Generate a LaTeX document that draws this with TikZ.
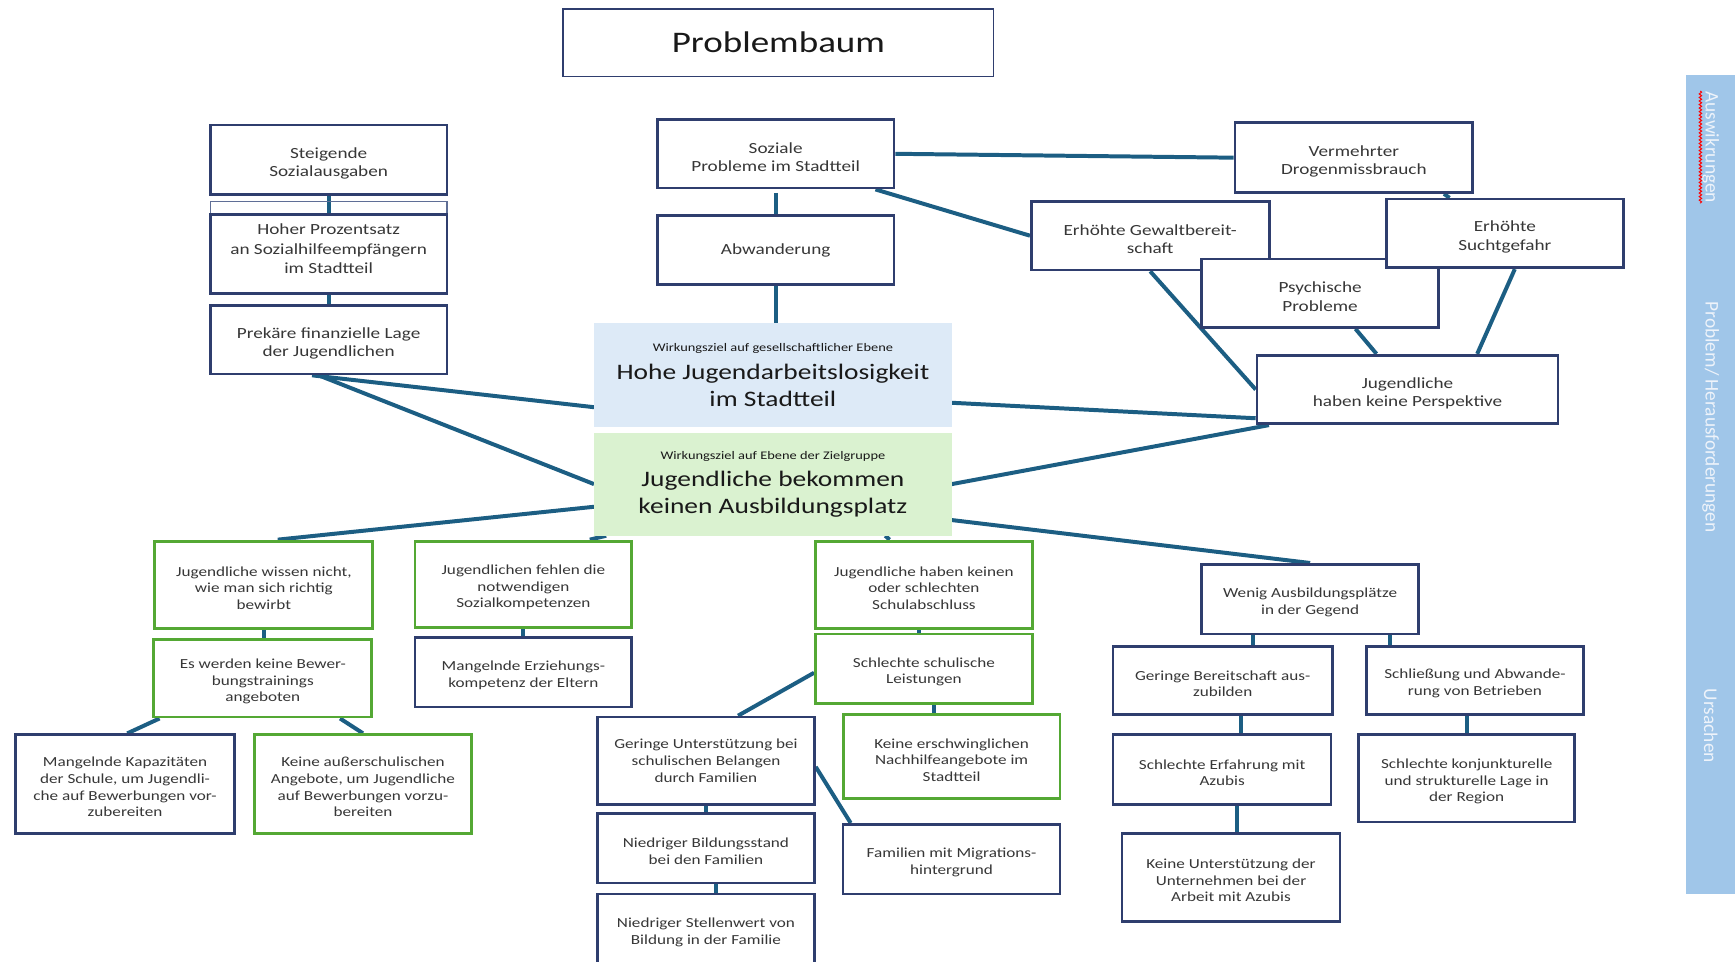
\documentclass[tikz,border=0pt]{standalone}
\usepackage{fontspec}
\setmainfont{Carlito}[FakeStretch=1.24]
\newfontfamily\sidefont{Carlito}
\usetikzlibrary{calc,backgrounds,decorations.pathmorphing}
\definecolor{navy}{RGB}{47,62,110}
\definecolor{grn}{RGB}{84,168,52}
\definecolor{conn}{RGB}{28,94,131}
\definecolor{bluefill}{RGB}{221,234,247}
\definecolor{greenfill}{RGB}{218,242,208}
\definecolor{sidebar}{RGB}{160,198,233}
\definecolor{sidetext}{RGB}{238,243,250}
\definecolor{thinline}{RGB}{95,110,150}
\definecolor{boxtext}{RGB}{55,55,55}
\newcommand\tpad{\rule{0pt}{1.15em}}
\begin{document}
\begin{tikzpicture}[x=1pt,y=-1pt,
  base/.style={rectangle, inner sep=0pt, align=center, fill=white, text=boxtext},
  upbox/.style={base, draw=navy, line width=2.4pt, font=\fontsize{14}{16.5}\selectfont},
  lowbox/.style={base, draw=navy, line width=2.4pt, font=\fontsize{12.5}{15}\selectfont},
  lowgreen/.style={lowbox, draw=grn, line width=2.6pt},
  goalbox/.style={base, draw=none, text=black!90, font=\fontsize{20}{24.5}\selectfont},
  sidelabel/.style={rotate=-90, text=sidetext, font=\sidefont\fontsize{17.5}{20}\selectfont, inner sep=0pt},
  conline/.style={draw=conn, line width=3.6pt},
  sz/.style 2 args={minimum width=#1pt, minimum height=#2pt},
]
\useasboundingbox (0,0) rectangle (1568,869);
\clip (0,0) rectangle (1568,869);

% title
\node[base, draw=navy, line width=1.3pt, sz={389}{61}, text=black!90, font=\fontsize{27}{32}\selectfont] (title) at (703.5,38.5) {Problembaum};

% sidebar
\node[fill=sidebar, inner sep=0pt, sz={44}{740}] (side) at (1546,438) {};
\node[sidelabel] (s1) at (1546,133) {Auswikrungen};
\draw[red, line width=0.9pt, decorate, decoration={snake, segment length=3.2pt, amplitude=1.1pt}] ($(s1.south west)+(-1.5,0)$) -- ($(s1.south east)+(-1.5,0)$);
\node[sidelabel] (s2) at (1546,377) {Problem/ Herausforderungen};
\node[sidelabel] (s3) at (1546,656) {Ursachen};

% upper left column
\node[upbox, sz={214}{63}] (steig) at (297,144.5) {\tpad Steigende\\Sozialausgaben};
\node[draw=thinline, line width=1.1pt, inner sep=0pt, sz={214}{12}] (thin) at (297,188) {};
\node[upbox, font=\fontsize{14}{17.5}\selectfont, sz={214}{71}] (hoher) at (297,229.5) {Hoher Prozentsatz\\an Sozialhilfeempfängern\\im Stadtteil\rule[-9pt]{0pt}{0pt}};
\node[upbox, sz={214}{62}] (prek) at (297,307) {\tpad Prekäre finanzielle Lage\\der Jugendlichen};

% upper middle
\node[upbox, sz={214}{62}] (soz) at (701,139) {\tpad Soziale\\Probleme im Stadtteil};
\node[upbox, sz={214}{62}] (abw) at (701,226) {Abwanderung};

% goals
\node[goalbox, fill=bluefill, sz={323}{94}] (blue) at (698.5,339) {{\fontsize{10.5}{12}\selectfont Wirkungsziel auf gesellschaftlicher Ebene}\\Hohe Jugendarbeitslosigkeit\\im Stadtteil};
\node[goalbox, fill=greenfill, sz={323}{93}] (green) at (698.5,437.5) {{\fontsize{10.5}{12}\selectfont Wirkungsziel auf Ebene der Zielgruppe}\\Jugendliche bekommen\\keinen Ausbildungsplatz};

% upper right
\node[upbox, sz={215}{63}] (verm) at (1223.5,142.5) {\tpad Vermehrter\\Drogenmissbrauch};
\node[upbox, sz={215}{62}] (gewalt) at (1039.5,213) {\tpad Erhöhte Gewaltbereit-\\schaft};
\node[upbox, sz={214}{62}] (psych) at (1193,265) {\tpad Psychische\\Probleme};
\node[upbox, sz={214}{62}] (sucht) at (1360,211) {\tpad Erhöhte\\Suchtgefahr};
\node[upbox, sz={272}{62}] (persp) at (1272,352) {\tpad Jugendliche\\haben keine Perspektive};

% lower left
\node[lowgreen, sz={197}{79}] (jwn) at (238.5,528.5) {\tpad Jugendliche wissen nicht,\\wie man sich richtig\\bewirbt};
\node[lowgreen, sz={197}{70}] (esw) at (237.5,613) {\tpad Es werden keine Bewer-\\bungstrainings\\angeboten};
\node[lowbox, sz={198}{89}] (mangK) at (113,708.5) {\tpad Mangelnde Kapazitäten\\der Schule, um Jugendli-\\che auf Bewerbungen vor-\\zubereiten};
\node[lowgreen, sz={196}{89}] (keineA) at (328,708.5) {\tpad Keine außerschulischen\\Angebote, um Jugendliche\\auf Bewerbungen vorzu-\\bereiten};
\node[lowgreen, sz={196}{78}] (jfd) at (473,528) {\tpad Jugendlichen fehlen die\\notwendigen\\Sozialkompetenzen};
\node[lowbox, sz={196}{63}] (mangE) at (473,607.5) {\tpad Mangelnde Erziehungs-\\kompetenz der Eltern};

% lower middle
\node[lowgreen, sz={196}{79}] (jhk) at (835,528.5) {\tpad Jugendliche haben keinen\\oder schlechten\\Schulabschluss};
\node[lowgreen, sz={196}{63}] (ssl) at (835,604.5) {\tpad Schlechte schulische\\Leistungen};
\node[lowgreen, sz={196}{76}] (kenh) at (860,684) {\tpad Keine erschwinglichen\\Nachhilfeangebote im\\Stadtteil};
\node[lowbox, sz={196}{63}] (fam) at (860,776.5) {\tpad Familien mit Migrations-\\hintergrund};
\node[lowbox, sz={196}{79}] (gu) at (638,687.5) {Geringe Unterstützung bei\\schulischen Belangen\\durch Familien};
\node[lowbox, sz={196}{63}] (nb) at (638,766.5) {\tpad Niedriger Bildungsstand\\bei den Familien};
\node[lowbox, sz={196}{64}] (ns) at (638,840) {\tpad Niedriger Stellenwert von\\Bildung in der Familie};

% lower right
\node[lowbox, sz={196}{63}] (wenig) at (1184,541.5) {\tpad Wenig Ausbildungsplätze\\in der Gegend};
\node[lowbox, sz={198}{62}] (gb) at (1105,615) {\tpad Geringe Bereitschaft aus-\\zubilden};
\node[lowbox, sz={196}{62}] (schl) at (1333,615) {\tpad Schließung und Abwande-\\rung von Betrieben};
\node[lowbox, sz={197}{63}] (se) at (1104.5,695.5) {\tpad Schlechte Erfahrung mit\\Azubis};
\node[lowbox, sz={197}{80}] (kub) at (1112.5,793) {\tpad Keine Unterstützung der\\Unternehmen bei der\\Arbeit mit Azubis};
\node[lowbox, sz={195}{79}] (skl) at (1325.5,703.5) {\tpad Schlechte konjunkturelle\\und strukturelle Lage in\\der Region};

\begin{scope}[on background layer]
\draw[conline] (steig.south) -- (hoher.north);
\draw[conline] (hoher.south) -- (prek.north);
\draw[conline] ($(prek.south)+(-15,0)$) -- ($(blue.west)+(0,29)$);
\draw[conline] ($(prek.south)+(-9,0)$) -- (green.west);
\draw[conline] ($(green.west)+(0,20.5)$) -- ($(jwn.north)+(12.5,0)$);
\draw[conline] ($(green.south west)+(11,0)$) -- ($(jfd.north)+(60,0)$);
\draw[conline] ($(green.south)+(101.5,0)$) -- ($(jhk.north)+(-31,0)$);
\draw[conline] ($(green.east)+(0,32.5)$) -- (wenig.north);
\draw[conline] (green.east) -- ($(persp.south west)+(12,0)$);
\draw[conline] ($(blue.east)+(0,25)$) -- ($(persp.west)+(0,26)$);
\draw[conline] (abw.south) -- (abw.south |- blue.north);
\draw[conline] ($(soz.south)+(0,3)$) -- (abw.north);
\draw[conline] (soz.east) -- (verm.west);
\draw[conline] ($(soz.south east)+(-18,0)$) -- (gewalt.west);
\draw[conline] ($(verm.south)+(81.5,0)$) -- ($(sucht.north)+(-50,0)$);
\draw[conline] (gewalt.south) -- (persp.west);
\draw[conline] ($(psych.south)+(32,0)$) -- ($(persp.north)+(-28,0)$);
\draw[conline] ($(sucht.south)+(9,0)$) -- ($(persp.north)+(63,0)$);
\draw[conline] (jwn.south) -- (jwn.south |- esw.north);
\draw[conline] ($(esw.south west)+(6.5,0)$) -- ($(mangK.north)+(2,0)$);
\draw[conline] ($(esw.south east)+(-30,0)$) -- (keineA.north);
\draw[conline] (jfd.south) -- (mangE.north);
\draw[conline] ($(jhk.south)+(-4.5,0)$) -- ($(ssl.north)+(-4.5,0)$);
\draw[conline] ($(ssl.south)+(9,0)$) -- ($(kenh.north)+(-16,0)$);
\draw[conline] ($(ssl.west)+(0,3.5)$) -- ($(gu.north)+(29,0)$);
\draw[conline] ($(gu.east)+(0,5.5)$) -- ($(fam.north west)+(8,0)$);
\draw[conline] (gu.south) -- (nb.north);
\draw[conline] ($(nb.south)+(9,0)$) -- ($(ns.north)+(9,0)$);
\draw[conline] ($(wenig.south)+(-52,0)$) -- ($(gb.north)+(27,0)$);
\draw[conline] ($(wenig.south)+(72,0)$) -- ($(schl.north)+(-77,0)$);
\draw[conline] ($(gb.south)+(16.5,0)$) -- ($(se.north)+(17,0)$);
\draw[conline] ($(se.south)+(13,0)$) -- ($(kub.north)+(5,0)$);
\draw[conline] ($(schl.south)+(-7.5,0)$) -- (skl.north);
\end{scope}
\end{tikzpicture}
\end{document}
